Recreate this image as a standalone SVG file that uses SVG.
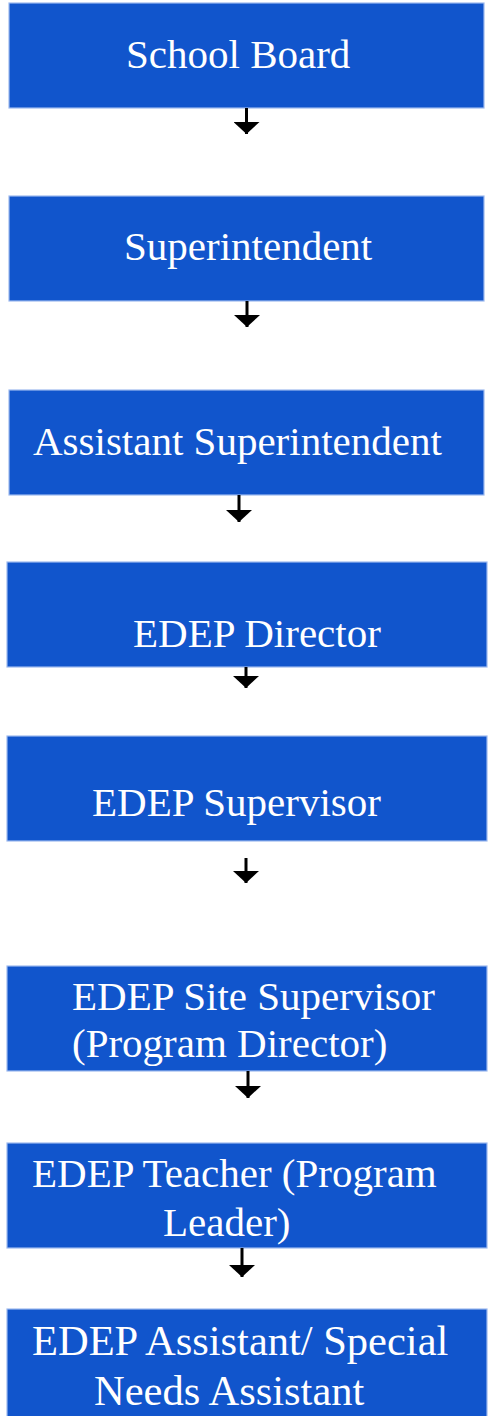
<svg xmlns="http://www.w3.org/2000/svg" width="488" height="1416" viewBox="0 0 488 1416">
<style>
.box{fill:#1155cc;stroke:#9db9ee;stroke-width:1.2}
.lbl{fill:#ffffff;font-family:"Liberation Serif","Times New Roman",serif;font-size:41px}
.big{font-size:42.5px}
.conn{stroke:#000;stroke-width:3;fill:none;marker-end:url(#ah)}
</style>
<defs>
<marker id="ah" markerUnits="userSpaceOnUse" viewBox="0 0 12 26" refX="12" refY="13" markerWidth="12" markerHeight="26" orient="auto">
<path d="M0,0 L12,13 L0,26 z" fill="#000"/>
</marker>
</defs>
<rect width="488" height="1416" fill="#fff"/>
<g id="n1"><rect class="box" x="9" y="3" width="475" height="105"/><text class="lbl" x="126" y="68" font-size="40.5">School Board</text></g>
<g id="n2"><rect class="box" x="9" y="196" width="475" height="105"/><text class="lbl" x="124" y="260">Superintendent</text></g>
<g id="n3"><rect class="box" x="9" y="390" width="475" height="105"/><text class="lbl" x="33" y="455">Assistant Superintendent</text></g>
<g id="n4"><rect class="box" x="7" y="562" width="480" height="105"/><text class="lbl" x="133" y="647">EDEP Director</text></g>
<g id="n5"><rect class="box" x="7" y="736" width="480" height="105"/><text class="lbl" x="92" y="816">EDEP Supervisor</text></g>
<g id="n6"><rect class="box" x="7" y="966" width="480" height="105"/><text class="lbl" x="72" y="1010">EDEP Site Supervisor</text><text class="lbl" x="72" y="1057">(Program Director)</text></g>
<g id="n7"><rect class="box" x="7" y="1143" width="480" height="105"/><text class="lbl" x="32" y="1187">EDEP Teacher (Program</text><text class="lbl" x="163" y="1236">Leader)</text></g>
<g id="n8"><rect class="box" x="7" y="1309" width="480" height="120"/><text class="lbl big" x="32" y="1355">EDEP Assistant/ Special</text><text class="lbl big" x="94" y="1405">Needs Assistant</text></g>
<g id="connectors">
<path class="conn" d="M246.5,108 L246.5,134"/>
<path class="conn" d="M247,301 L247,327"/>
<path class="conn" d="M239,495 L239,522"/>
<path class="conn" d="M246,667 L246,688"/>
<path class="conn" d="M246,858 L246,883"/>
<path class="conn" d="M248,1071 L248,1098"/>
<path class="conn" d="M242,1248 L242,1277"/>
</g>
</svg>
